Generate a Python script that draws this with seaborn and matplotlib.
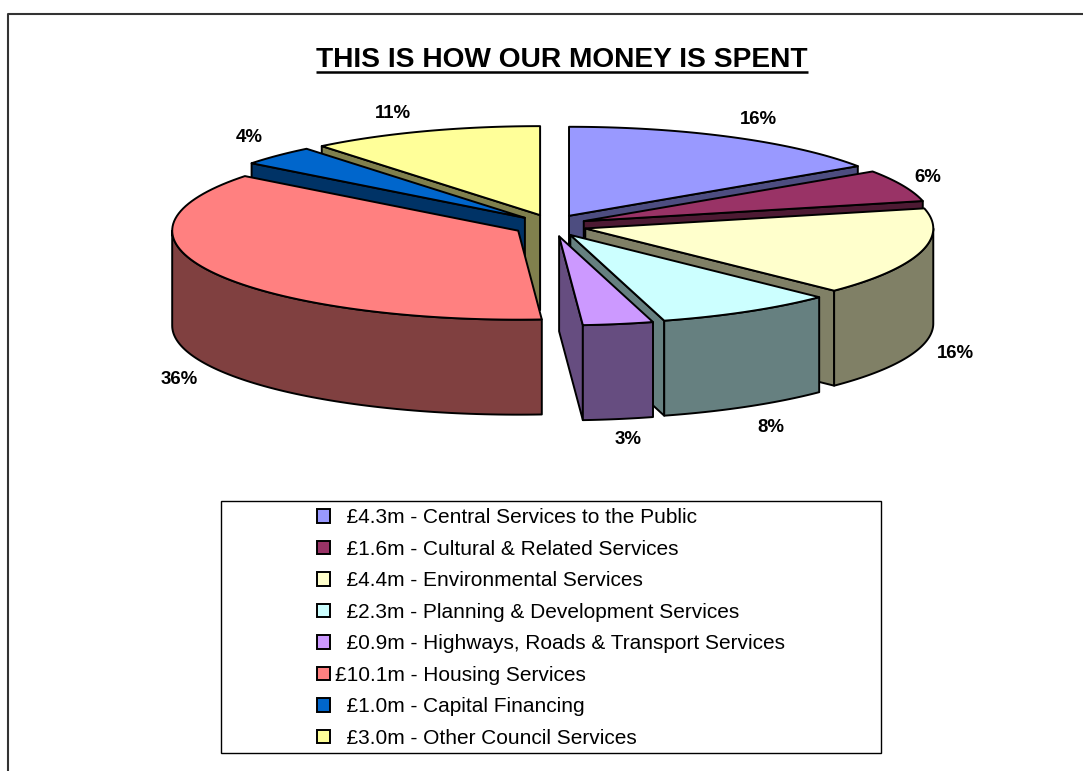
import numpy as np
import matplotlib
matplotlib.use("Agg")
import matplotlib.pyplot as plt
from matplotlib.patches import Patch, Rectangle
import seaborn as sns

services = ["Central Services to the Public", "Cultural & Related Services", "Environmental Services",
            "Planning & Development Services", "Highways, Roads & Transport Services", "Housing Services",
            "Capital Financing", "Other Council Services"]
spend_m = [4.3, 1.6, 4.4, 2.3, 0.9, 10.1, 1.0, 3.0]
percents = [16, 6, 16, 8, 3, 36, 4, 11]
top_colours = ["#9999FF", "#993366", "#FFFFCC", "#CCFFFF", "#CC99FF", "#FF8080", "#0066CC", "#FFFF99"]
title = "THIS IS HOW OUR MONEY IS SPENT"

# pie geometry, in image pixels (left half sits a bit further out, the original has perspective)
CX, CY = 553.5, 225.5
RX_RIGHT, RX_LEFT, RY = 348, 346, 89
DEPTH = 95
EXPLODE_RIGHT, EXPLODE_LEFT, EXPLODE_Y = 33, 40, 11
LW = 1.4
LABEL_XY = [(758, 120), (928, 178), (955, 353), (771, 427), (628, 439), (179, 379), (249, 138), (393, 113)]

sns.set_theme(style="white")
plt.rcParams["font.family"] = ["Liberation Sans", "DejaVu Sans"]
palette = sns.color_palette(top_colours)
shades = [tuple(c * 0.5 for c in col) for col in palette]

fig = plt.figure(figsize=(10.83, 7.71), dpi=100)
ax = fig.add_axes([0, 0, 1, 1])
ax.set_xlim(0, 1083)
ax.set_ylim(771, 0)
ax.axis("off")

values = np.array(spend_m)
fracs = values / values.sum()
edges = np.concatenate([[0], np.cumsum(fracs)]) * 2 * np.pi


def draw_slice(i):
    a, b = edges[i], edges[i + 1]
    mid = (a + b) / 2
    left = np.sin(mid) < 0
    rx = RX_LEFT if left else RX_RIGHT
    ox = CX + (EXPLODE_LEFT if left else EXPLODE_RIGHT) * np.sin(mid)
    oy = CY - EXPLODE_Y * np.cos(mid)
    style = dict(edgecolor="black", linewidth=LW, joinstyle="round")

    def rim(s, e):
        t = np.linspace(s, e, 80)
        return ox + rx * np.sin(t), oy - RY * np.cos(t)

    # walls facing the viewer first, lid last
    for ang, visible in ((a, np.sin(a) < 0), (b, np.sin(b) > 0)):
        if visible:
            x, y = rim(ang, ang)
            ax.fill([ox, x[0], x[0], ox], [oy, y[0], y[0] + DEPTH, oy + DEPTH], facecolor=shades[i], **style)
    lo, hi = max(a, np.pi / 2), min(b, 3 * np.pi / 2)
    if lo < hi:
        x, y = rim(lo, hi)
        ax.fill(np.r_[x, x[::-1]], np.r_[y, y[::-1] + DEPTH], facecolor=shades[i], **style)
    x, y = rim(a, b)
    ax.fill(np.r_[ox, x], np.r_[oy, y], facecolor=palette[i], **style)


# back to front
order = sorted(range(len(values)), key=lambda i: -np.cos((edges[i] + edges[i + 1]) / 2))
for i in order:
    draw_slice(i)

for pct, (lx, ly) in zip(percents, LABEL_XY):
    ax.text(lx, ly, f"{pct}%", ha="center", va="center", fontsize=13.4, fontweight="bold", color="black")

# title with underline
t = ax.text(562, 60, title, ha="center", va="center", fontsize=20.25, fontweight="bold", color="black")
fig.canvas.draw()
bb = t.get_window_extent().transformed(ax.transData.inverted())
ax.plot([bb.x0, bb.x1], [72, 72], color="black", lw=1.8, solid_capstyle="butt")

# legend
ax.add_patch(Rectangle((220.5, 500.5), 660, 252, facecolor="white", edgecolor="black", lw=1))
handles = [Patch(facecolor=palette[i], edgecolor="black", linewidth=1.4) for i in range(len(values))]
labels = [f"£{v:.1f}m - {s}" if v >= 10 else f"  £{v:.1f}m - {s}" for v, s in zip(spend_m, services)]
ax.legend(handles, labels, loc="upper left", bbox_to_anchor=(0.2757, 1 - 489.5 / 771), frameon=False,
          fontsize=15, labelspacing=0.6, handlelength=0.63, handleheight=0.63, handletextpad=0.24,
          borderpad=0.4, labelcolor="black")

# outer chart border: top and left only, the rest falls outside the crop
ax.plot([7.5, 7.5, 1083], [771, 13.5, 13.5], color="#333333", lw=1.5, clip_on=False)

fig.savefig("out.png", dpi=100, facecolor="white")
